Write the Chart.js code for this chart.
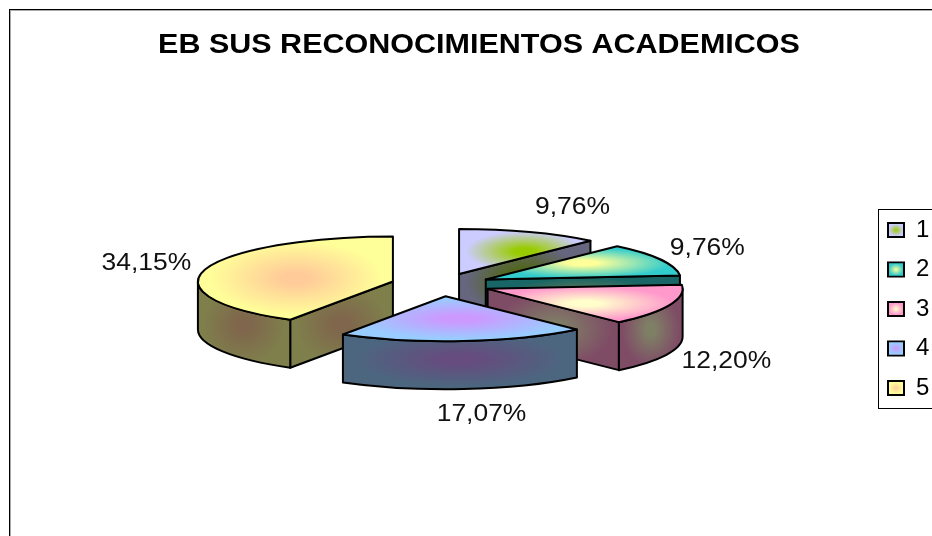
<!DOCTYPE html>
<html><head><meta charset="utf-8">
<style>html,body{margin:0;padding:0;background:#fff}#w{width:932px;height:536px;position:relative}</style>
<script src="https://cdn.jsdelivr.net/npm/chart.js@4"></script>
</head><body><div id="w"><canvas id="c" width="932" height="536"></canvas></div>
<script>
const chartTitle = 'EB SUS RECONOCIMIENTOS ACADEMICOS';
const categories = ['1','2','3','4','5'];
const percentages = [9.76, 9.76, 12.20, 17.07, 34.15];
const edgeColors = ['#CCCCFF','#33CCCC','#FF99CC','#99CCFF','#FFFF99'];
const centerColors = ['#99CC00','#FFFF99','#FFFFCC','#CC99FF','#FFCC99'];
const paintOrder = [0,1,2,4,3];
const labelNudges = [[43,-24],[47,-11],[57,57],[18,74],[-59,-6]];
const TILT = 0.2308, DEPTH = 48, EXPLODE = 50, RADIUS = 195;
const LEGEND_PAD = 15.5, LEGEND_FONT = 24, BOX_W = 16, BOX_H = 14;

function half(hex){
  const n = parseInt(hex.slice(1),16);
  return `rgb(${(n>>16&255)>>1},${(n>>8&255)>>1},${(n&255)>>1})`;
}
function boxOf(pts){
  const xs = pts.map(p=>p[0]), ys = pts.map(p=>p[1]);
  const x0=Math.min(...xs), x1=Math.max(...xs), y0=Math.min(...ys), y1=Math.max(...ys);
  return {cx:(x0+x1)/2, cy:(y0+y1)/2, hw:Math.max((x1-x0)/2,1), hh:Math.max((y1-y0)/2,1)};
}
function paint(ctx, box, edge, center){
  ctx.save();
  ctx.translate(box.cx, box.cy);
  ctx.scale(box.hw, box.hh);
  const g = ctx.createRadialGradient(0,0,0,0,0,1);
  g.addColorStop(0, center);
  g.addColorStop(0.15, center);
  g.addColorStop(0.9, edge);
  g.addColorStop(1, edge);
  ctx.fillStyle = g;
  ctx.fill();
  ctx.restore();
  ctx.lineWidth = 2;
  ctx.lineJoin = 'round';
  ctx.strokeStyle = '#000';
  ctx.stroke();
}
function geometry(arc){
  const mid = (arc.startAngle + arc.endAngle)/2;
  const R = arc.outerRadius;
  const ax = arc.x + EXPLODE*Math.cos(mid);
  const ay = arc.y + EXPLODE*TILT*Math.sin(mid);
  const at = t => [ax + R*Math.cos(t), ay + R*TILT*Math.sin(t)];
  return {mid, R, ax, ay, at, a:arc.startAngle, b:arc.endAngle};
}
function radialWall(ctx, g, t, i){
  const p = g.at(t);
  ctx.beginPath();
  ctx.moveTo(g.ax,g.ay); ctx.lineTo(p[0],p[1]);
  ctx.lineTo(p[0],p[1]+DEPTH); ctx.lineTo(g.ax,g.ay+DEPTH); ctx.closePath();
  paint(ctx, boxOf([[g.ax,g.ay],p,[p[0],p[1]+DEPTH],[g.ax,g.ay+DEPTH]]), half(edgeColors[i]), half(centerColors[i]));
}
function drawSlice(ctx, arc, i){
  const g = geometry(arc);
  if (Math.sin(g.a-Math.PI/2) > 0.01) radialWall(ctx,g,g.a,i);
  if (Math.sin(g.b+Math.PI/2) > 0.01) radialWall(ctx,g,g.b,i);
  const lo = Math.max(g.a,0), hi = Math.min(g.b,Math.PI);
  if (hi > lo){
    const pts=[];
    for(let s=0;s<=24;s++){const q=g.at(lo+(hi-lo)*s/24);pts.push(q,[q[0],q[1]+DEPTH]);}
    ctx.beginPath();
    ctx.ellipse(g.ax,g.ay,g.R,g.R*TILT,0,lo,hi);
    ctx.ellipse(g.ax,g.ay+DEPTH,g.R,g.R*TILT,0,hi,lo,true);
    ctx.closePath();
    paint(ctx, boxOf(pts), half(edgeColors[i]), half(centerColors[i]));
  }
  const pts=[[g.ax,g.ay]];
  for(let s=0;s<=24;s++) pts.push(g.at(g.a+(g.b-g.a)*s/24));
  ctx.beginPath();
  ctx.moveTo(g.ax,g.ay);
  ctx.ellipse(g.ax,g.ay,g.R,g.R*TILT,0,g.a,g.b);
  ctx.closePath();
  paint(ctx, boxOf(pts), edgeColors[i], centerColors[i]);
}
const pie3d = {
  id:'pie3d',
  afterLayout(chart){
    const lg = chart.legend;
    const w = lg.right-lg.left, h = lg.bottom-lg.top;
    lg.left = 888 - LEGEND_PAD; lg.right = lg.left + w;
    lg.top = 202.5; lg.bottom = lg.top + h;
    const t = chart.titleBlock;
    t.left = 26; t.right = 932; t.width = 906;
    if (!t._stretched){
      t._stretched = true;
      const base = t.draw;
      t.draw = function(){
        const c = this.ctx;
        c.save();
        c.translate(479,0); c.scale(1.13,1); c.translate(-479,0);
        base.call(this);
        c.restore();
      };
    }
  },
  beforeDraw(chart){
    const ctx = chart.ctx;
    ctx.save();
    ctx.fillStyle='#000'; ctx.fillRect(9,9,923,1); ctx.fillRect(9,9,1,527);
    ctx.fillStyle='#aaa'; ctx.fillRect(10,10,922,1); ctx.fillRect(10,10,1,526);
    ctx.lineWidth=1; ctx.strokeStyle='#000';
    ctx.strokeRect(878.5,209.5,60,199);
    ctx.restore();
  },
  beforeDatasetDraw(chart){
    const ctx = chart.ctx, arcs = chart.getDatasetMeta(0).data;
    ctx.save();
    paintOrder.forEach(i=>drawSlice(ctx,arcs[i],i));
    ctx.restore();
    return false;
  },
  afterDraw(chart){
    const ctx = chart.ctx, arcs = chart.getDatasetMeta(0).data;
    ctx.save();
    ctx.font = '23px "Liberation Sans"';
    ctx.fillStyle = '#111';
    ctx.textAlign='center'; ctx.textBaseline='middle';
    arcs.forEach((arc,i)=>{
      const g = geometry(arc), p = g.at(g.mid);
      ctx.save();
      ctx.translate(p[0]+labelNudges[i][0], p[1]+labelNudges[i][1]);
      ctx.scale(1.15,1);
      ctx.fillText(percentages[i].toFixed(2).replace('.',',')+'%',0,0);
      ctx.restore();
    });
    const lg = chart.legend;
    categories.forEach((_,i)=>{
      const y0 = lg.top + LEGEND_PAD + i*(LEGEND_FONT+LEGEND_PAD) + (LEGEND_FONT-BOX_H)/2;
      const x=lg.left+LEGEND_PAD+1, w=BOX_W-2, y=y0+1, s=BOX_H-2;
      ctx.save();
      ctx.beginPath(); ctx.rect(x,y,w,s);
      ctx.translate(x+w/2,y+s/2); ctx.scale(w/2,s/2);
      const gr=ctx.createRadialGradient(0,0,0,0,0,1);
      gr.addColorStop(0,centerColors[i]); gr.addColorStop(1,edgeColors[i]);
      ctx.fillStyle=gr; ctx.fill();
      ctx.restore();
    });
    ctx.restore();
  }
};
new Chart(document.getElementById('c'),{
  type:'pie',
  data:{labels:categories,datasets:[{data:percentages,backgroundColor:edgeColors,borderColor:'#000',borderWidth:2,radius:RADIUS}]},
  options:{
    responsive:false,animation:false,
    layout:{padding:{left:0,right:50,top:0,bottom:29}},
    plugins:{
      tooltip:{enabled:false},
      title:{display:true,text:chartTitle,color:'#000',
        font:{family:'"Liberation Sans"',size:27,weight:'bold'},padding:{top:29,bottom:1}},
      legend:{display:true,position:'chartArea',align:'start',
        labels:{boxWidth:BOX_W,boxHeight:BOX_H,padding:LEGEND_PAD,color:'#000',font:{family:'"Liberation Sans"',size:LEGEND_FONT}}}
    }
  },
  plugins:[pie3d]
});
</script></body></html>
